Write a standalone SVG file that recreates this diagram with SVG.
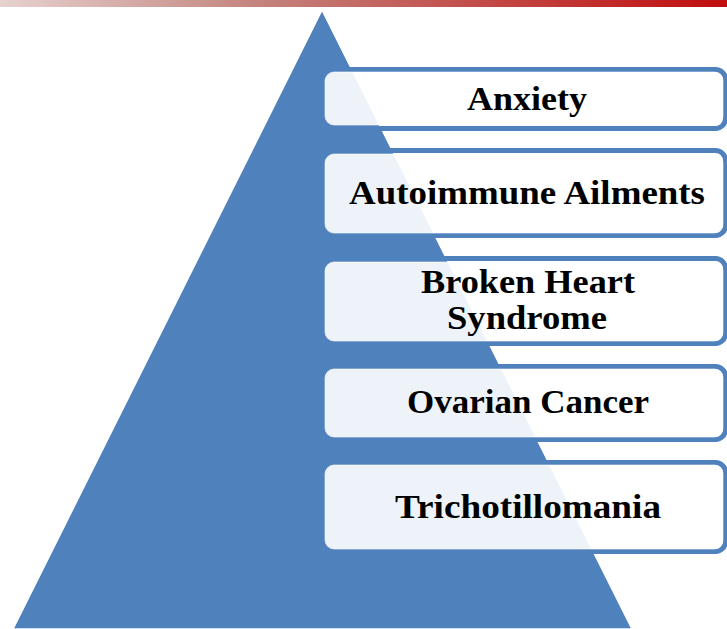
<svg xmlns="http://www.w3.org/2000/svg" width="727" height="629" viewBox="0 0 727 629">
<defs>
<linearGradient id="bar" x1="0" y1="0" x2="1" y2="0">
<stop offset="0" stop-color="#e6d2d0"/>
<stop offset="0.35" stop-color="#c4847e"/>
<stop offset="1" stop-color="#c00d0d"/>
</linearGradient>
</defs>
<style>
.frame{fill:none;stroke:#4f81bd;stroke-width:5}
.card{fill:#ffffff;fill-opacity:0.9;stroke:#ffffff;stroke-opacity:0.6;stroke-width:1}
.lbl{font-family:"Liberation Serif","Times New Roman",serif;font-weight:bold;font-size:34px;fill:#000;text-anchor:middle}
</style>
<rect x="0" y="0" width="727" height="7" fill="url(#bar)"/>
<g id="pyramid">
<polygon points="322,10 632,629 13,629" fill="#4f81bd" stroke="#ffffff" stroke-width="1.5" stroke-miterlimit="10"/>
</g>
<g id="connectors"></g>
<g id="anxiety">
<rect class="frame" x="323.5" y="69.5" width="402" height="59" rx="10"/>
<rect class="card" x="325" y="72" width="398" height="53" rx="9"/>
<text class="lbl" x="527" y="110" textLength="120" lengthAdjust="spacingAndGlyphs">Anxiety</text>
</g>
<g id="autoimmune">
<rect class="frame" x="323.5" y="150.5" width="402" height="85" rx="10"/>
<rect class="card" x="325" y="154" width="398" height="79" rx="9"/>
<text class="lbl" x="527" y="204" textLength="356" lengthAdjust="spacingAndGlyphs">Autoimmune Ailments</text>
</g>
<g id="broken-heart">
<rect class="frame" x="323.5" y="258.5" width="402" height="85" rx="10"/>
<rect class="card" x="325" y="262" width="398" height="79" rx="9"/>
<text class="lbl" x="528" y="293" textLength="214" lengthAdjust="spacingAndGlyphs">Broken Heart</text>
<text class="lbl" x="527" y="329" textLength="160" lengthAdjust="spacingAndGlyphs">Syndrome</text>
</g>
<g id="ovarian">
<rect class="frame" x="323.5" y="366.5" width="402" height="73" rx="10"/>
<rect class="card" x="325" y="369" width="398" height="68" rx="9"/>
<text class="lbl" x="528" y="413" textLength="242" lengthAdjust="spacingAndGlyphs">Ovarian Cancer</text>
</g>
<g id="trichotillomania">
<rect class="frame" x="323.5" y="462.5" width="402" height="89" rx="10"/>
<rect class="card" x="325" y="465" width="398" height="84" rx="9"/>
<text class="lbl" x="528" y="518" textLength="266" lengthAdjust="spacingAndGlyphs">Trichotillomania</text>
</g>
</svg>
